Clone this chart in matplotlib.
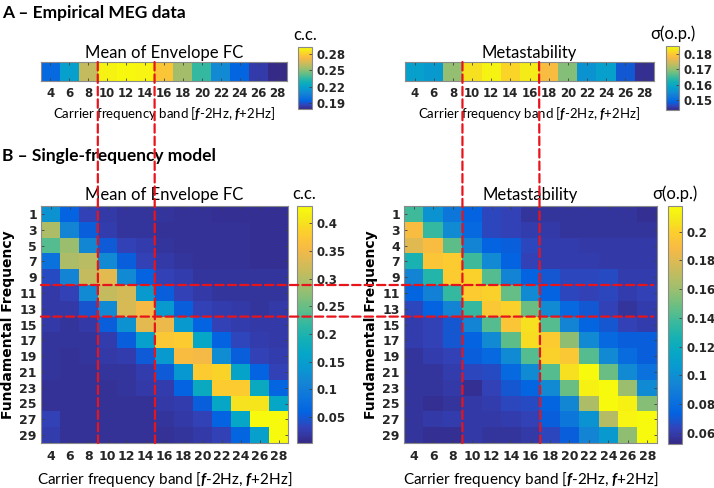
import numpy as np
import matplotlib
matplotlib.use('Agg')
import matplotlib.pyplot as plt
from matplotlib.colors import LinearSegmentedColormap
from matplotlib.patches import ConnectionPatch

plt.rcParams['font.family'] = ['DejaVu Sans']
plt.rcParams['font.weight'] = 'bold'
plt.rcParams['mathtext.fontset'] = 'custom'
plt.rcParams['mathtext.rm'] = 'Lato'
plt.rcParams['mathtext.it'] = 'Lato:italic'

# ---- data ----
bands = [4, 6, 8, 10, 12, 14, 16, 18, 20, 22, 24, 26, 28]
fund_left = [1, 3, 5, 7, 9, 11, 13, 15, 17, 19, 21, 23, 25, 27, 29]
fund_right = [1, 3, 4, 7, 9, 11, 13, 15, 17, 19, 21, 23, 25, 27, 29]

# A - empirical MEG
meg_fc = [0.196, 0.219, 0.261, 0.290, 0.292, 0.291, 0.277, 0.255, 0.236, 0.210, 0.195, 0.184, 0.179]
meg_meta = [0.158, 0.157, 0.170, 0.182, 0.184, 0.181, 0.183, 0.178, 0.169, 0.156, 0.158, 0.148, 0.144]

# B - single-frequency model (rows = fundamental freq, cols = carrier band)
model_fc = [
    [0.131, 0.059, 0.029, 0.020, 0.016, 0.016, 0.016, 0.012, 0.012, 0.010, 0.010, 0.010, 0.010],
    [0.294, 0.110, 0.054, 0.024, 0.016, 0.016, 0.012, 0.012, 0.012, 0.012, 0.012, 0.010, 0.010],
    [0.238, 0.281, 0.114, 0.050, 0.029, 0.024, 0.016, 0.012, 0.012, 0.012, 0.012, 0.010, 0.010],
    [0.080, 0.294, 0.303, 0.119, 0.054, 0.029, 0.020, 0.016, 0.012, 0.012, 0.012, 0.010, 0.010],
    [0.037, 0.110, 0.311, 0.337, 0.119, 0.059, 0.029, 0.024, 0.016, 0.016, 0.016, 0.016, 0.016],
    [0.020, 0.029, 0.119, 0.311, 0.324, 0.144, 0.054, 0.029, 0.020, 0.016, 0.016, 0.016, 0.016],
    [0.020, 0.020, 0.046, 0.119, 0.328, 0.354, 0.144, 0.054, 0.029, 0.024, 0.020, 0.016, 0.020],
    [0.020, 0.016, 0.020, 0.054, 0.131, 0.337, 0.345, 0.144, 0.059, 0.029, 0.024, 0.020, 0.020],
    [0.016, 0.016, 0.016, 0.024, 0.054, 0.153, 0.375, 0.380, 0.166, 0.059, 0.033, 0.024, 0.020],
    [0.016, 0.012, 0.016, 0.020, 0.024, 0.050, 0.144, 0.358, 0.354, 0.123, 0.054, 0.029, 0.024],
    [0.016, 0.012, 0.012, 0.016, 0.016, 0.024, 0.050, 0.140, 0.380, 0.388, 0.161, 0.059, 0.029],
    [0.012, 0.012, 0.012, 0.012, 0.016, 0.020, 0.024, 0.059, 0.174, 0.380, 0.380, 0.174, 0.063],
    [0.012, 0.012, 0.012, 0.012, 0.012, 0.012, 0.020, 0.024, 0.054, 0.166, 0.401, 0.405, 0.166],
    [0.029, 0.012, 0.012, 0.012, 0.012, 0.012, 0.016, 0.020, 0.029, 0.059, 0.166, 0.431, 0.431],
    [0.024, 0.012, 0.012, 0.012, 0.012, 0.012, 0.012, 0.016, 0.020, 0.029, 0.063, 0.153, 0.431],
]
model_meta = [
    [0.138, 0.102, 0.085, 0.074, 0.064, 0.062, 0.057, 0.057, 0.057, 0.057, 0.057, 0.057, 0.055],
    [0.190, 0.135, 0.098, 0.077, 0.064, 0.062, 0.060, 0.059, 0.057, 0.057, 0.057, 0.057, 0.057],
    [0.181, 0.190, 0.145, 0.094, 0.074, 0.072, 0.064, 0.060, 0.060, 0.059, 0.059, 0.059, 0.059],
    [0.127, 0.195, 0.198, 0.138, 0.097, 0.074, 0.062, 0.060, 0.060, 0.060, 0.059, 0.059, 0.059],
    [0.094, 0.130, 0.198, 0.201, 0.143, 0.094, 0.074, 0.069, 0.064, 0.064, 0.065, 0.060, 0.060],
    [0.075, 0.092, 0.135, 0.198, 0.201, 0.147, 0.098, 0.074, 0.064, 0.062, 0.064, 0.060, 0.062],
    [0.064, 0.074, 0.094, 0.135, 0.196, 0.201, 0.148, 0.097, 0.077, 0.070, 0.062, 0.057, 0.060],
    [0.060, 0.062, 0.069, 0.094, 0.143, 0.195, 0.206, 0.143, 0.094, 0.075, 0.069, 0.062, 0.060],
    [0.060, 0.062, 0.069, 0.074, 0.097, 0.145, 0.205, 0.198, 0.157, 0.097, 0.077, 0.072, 0.072],
    [0.057, 0.060, 0.062, 0.072, 0.077, 0.098, 0.143, 0.201, 0.196, 0.143, 0.097, 0.079, 0.072],
    [0.057, 0.057, 0.060, 0.064, 0.065, 0.077, 0.098, 0.143, 0.206, 0.218, 0.148, 0.097, 0.082],
    [0.057, 0.057, 0.059, 0.055, 0.062, 0.069, 0.075, 0.097, 0.148, 0.213, 0.218, 0.160, 0.098],
    [0.057, 0.055, 0.057, 0.059, 0.060, 0.064, 0.065, 0.075, 0.095, 0.165, 0.218, 0.213, 0.155],
    [0.057, 0.059, 0.060, 0.059, 0.059, 0.060, 0.062, 0.072, 0.085, 0.102, 0.168, 0.215, 0.218],
    [0.057, 0.055, 0.055, 0.059, 0.057, 0.057, 0.059, 0.064, 0.072, 0.094, 0.107, 0.157, 0.218],
]

# parula-like colormap (MATLAB default)
parula_pts = [
    (0.2081, 0.1663, 0.5292), (0.1959, 0.2645, 0.7279), (0.0117, 0.3875, 0.8820),
    (0.0498, 0.4586, 0.8641), (0.0793, 0.5200, 0.8312), (0.0343, 0.5966, 0.8199),
    (0.0228, 0.6535, 0.7768), (0.0843, 0.6928, 0.7062), (0.2178, 0.7250, 0.6193),
    (0.3953, 0.7459, 0.5244), (0.5709, 0.7485, 0.4494), (0.7184, 0.7411, 0.3905),
    (0.8507, 0.7299, 0.3360), (0.9739, 0.7314, 0.2666), (0.9880, 0.8066, 0.1794),
    (0.9598, 0.9218, 0.0948), (0.9763, 0.9831, 0.0538)]
parula_pos = [0, 4, 8, 12, 16, 20, 24, 28, 32, 36, 40, 44, 48, 52, 56, 60, 63]
parula = LinearSegmentedColormap.from_list(
    'parula', [(p / 63, c) for p, c in zip(parula_pos, parula_pts)])

W, H = 714, 488
def box(x0, y0, x1, y1):
    return [x0 / W, 1 - y1 / H, (x1 - x0) / W, (y1 - y0) / H]

fig = plt.figure(figsize=(W / 100, H / 100), dpi=100)

xlab = r'Carrier frequency band [$\mathit{f}$-2Hz, $\mathit{f}$+2Hz]'
red = '#e8141c'

def style(ax):
    for s in ax.spines.values():
        s.set_edgecolor('#8a8a8a')
        s.set_linewidth(0.8)
    ax.tick_params(direction='in', length=2.5, width=0.6, color='#404040',
                   top=True, right=True, labelcolor='#262626')

def cbar(im, cax, ticks, label, pad):
    cb = fig.colorbar(im, cax=cax, ticks=ticks)
    cb.outline.set_edgecolor('#8a8a8a')
    cb.outline.set_linewidth(0.8)
    cax.tick_params(direction='in', length=2.5, width=0.6, color='#404040',
                    labelsize=8.5, pad=3, labelcolor='#262626')
    cax.set_yticklabels([('%g' % t) for t in ticks])
    cax.set_title(label, family='Lato', fontweight='normal', fontsize=12, pad=pad)
    return cb

# ---- panel A ----
axA1 = fig.add_axes(box(41, 62, 287, 81))
imA1 = axA1.imshow(np.array([meg_fc]), cmap=parula, aspect='auto', vmin=0.179, vmax=0.293)
axA2 = fig.add_axes(box(405, 62, 654, 81))
imA2 = axA2.imshow(np.array([meg_meta]), cmap=parula, aspect='auto', vmin=0.1435, vmax=0.185)
for ax, title in [(axA1, 'Mean of Envelope FC'), (axA2, 'Metastability')]:
    style(ax)
    ax.set_xticks(range(len(bands)))
    ax.set_xticklabels(bands)
    ax.set_yticks([])
    ax.tick_params(axis='x', labelsize=8.5, pad=4)
    ax.set_title(title, family='Lato', fontweight='normal', fontsize=12, pad=3)
    ax.set_xlabel(xlab, family='Lato', fontweight='normal', fontsize=9.5, labelpad=4)

cA1 = fig.add_axes(box(298, 47, 312, 109))
cbar(imA1, cA1, [0.19, 0.22, 0.25, 0.28], 'c.c.', 5)
cA2 = fig.add_axes(box(666, 46, 679, 110))
cbar(imA2, cA2, [0.15, 0.16, 0.17, 0.18], 'σ(o.p.)', 5)

# ---- panel B ----
axB1 = fig.add_axes(box(41, 206, 288, 443))
imB1 = axB1.imshow(np.array(model_fc), cmap=parula, aspect='auto', vmin=0.003, vmax=0.431)
axB2 = fig.add_axes(box(404, 206, 657, 443))
imB2 = axB2.imshow(np.array(model_meta), cmap=parula, aspect='auto', vmin=0.052, vmax=0.218)
for ax, title, fund in [(axB1, 'Mean of Envelope FC', fund_left), (axB2, 'Metastability', fund_right)]:
    style(ax)
    ax.set_xticks(range(len(bands)))
    ax.set_xticklabels(bands)
    ax.set_yticks(range(len(fund)))
    ax.set_yticklabels(fund)
    ax.tick_params(axis='x', labelsize=9, pad=5)
    ax.tick_params(axis='y', labelsize=9, pad=3)
    ax.set_title(title, family='Lato', fontweight='normal', fontsize=12, pad=4)
    ax.set_xlabel(xlab, family='Lato', fontweight='normal', fontsize=11, labelpad=5)
    ax.set_ylabel('Fundamental Frequency', fontsize=10, fontweight='bold', labelpad=3)

cB1 = fig.add_axes(box(297, 206, 312, 443))
cbar(imB1, cB1, [0.05, 0.1, 0.15, 0.2, 0.25, 0.3, 0.35, 0.4], 'c.c.', 5)
cB2 = fig.add_axes(box(668, 206, 682, 444))
cbar(imB2, cB2, [0.06, 0.08, 0.1, 0.12, 0.14, 0.16, 0.18, 0.2], 'σ(o.p.)', 5)

fig.text(2 / W, 1 - 13 / H, 'A – Empirical MEG data', family='Lato', fontweight='bold',
         fontsize=12.5, va='center', ha='left')
fig.text(2 / W, 1 - 156 / H, 'B – Single-frequency model', family='Lato', fontweight='bold',
         fontsize=12.5, va='center', ha='left')

# ---- red dashed guides (band boundaries) ----
dash = dict(color=red, linewidth=1.6, linestyle=(0, (3.8, 1.8)), zorder=20)
for axT, axB, xb in [(axA1, axB1, 2.5), (axA1, axB1, 5.5), (axA2, axB2, 2.5), (axA2, axB2, 6.5)]:
    con = ConnectionPatch(xyA=(xb, -0.5), coordsA=axT.transData,
                          xyB=(xb, len(fund_left) - 0.5), coordsB=axB.transData, **dash)
    fig.add_artist(con)
for yb in [4.5, 6.5]:
    con = ConnectionPatch(xyA=(-0.5, yb), coordsA=axB1.transData,
                          xyB=(12.3, yb), coordsB=axB2.transData, **dash)
    fig.add_artist(con)

fig.savefig('out.png', dpi=100)
